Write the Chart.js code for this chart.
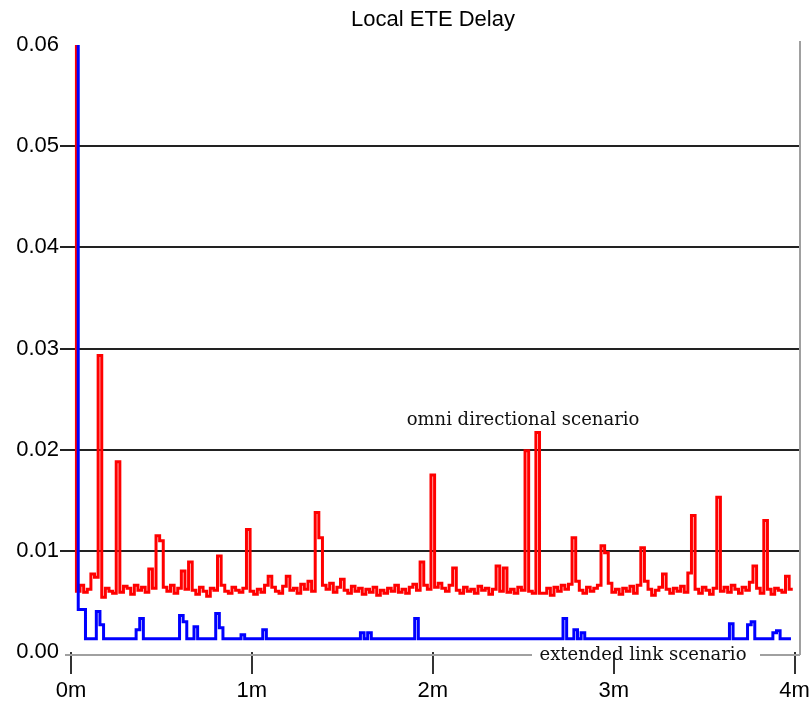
<!DOCTYPE html>
<html>
<head>
<meta charset="utf-8">
<title>Local ETE Delay</title>
<script src="https://cdn.jsdelivr.net/npm/chart.js@4.4.1/dist/chart.umd.min.js"></script>
<style>
  html, body { margin: 0; padding: 0; background: #fff; }
  #wrap { width: 810px; height: 702px; position: relative; }
</style>
</head>
<body>
<div id="wrap"><canvas id="ete-chart" width="810" height="702"></canvas></div>
<script>
// sampling grid of the simulation output (minutes)
const sampleStep = 0.02;
const omniStart = 0.03;
const extendedStart = 0.04;

const chartTitle = 'Local ETE Delay';
const omniLabel = 'omni directional scenario';
const extendedLabel = 'extended link scenario';
const xTickValues = [0, 1, 2, 3, 4];
const xTickLabels = ['0m', '1m', '2m', '3m', '4m'];
const yTickValues = [0, 0.01, 0.02, 0.03, 0.04, 0.05, 0.06];

// omni directional scenario (red), seconds
const omniDelay = [
  0.0600, 0.0060,
          0.0066, 0.0059, 0.0062, 0.0077, 0.0074, 0.0293, 0.0054, 0.0063, 0.0060,
  0.0058, 0.0188, 0.0059, 0.0065, 0.0063, 0.0057, 0.0066, 0.0061, 0.0064, 0.0059,
  0.0082, 0.0063, 0.0115, 0.0110, 0.0064, 0.0060, 0.0066, 0.0058, 0.0063, 0.0080,
  0.0062, 0.0089, 0.0061, 0.0057, 0.0064, 0.0060, 0.0055, 0.0063, 0.0061, 0.0095,
  0.0066, 0.0060, 0.0058, 0.0064, 0.0061, 0.0059, 0.0063, 0.0121, 0.0060, 0.0057,
  0.0062, 0.0059, 0.0066, 0.0075, 0.0064, 0.0060, 0.0058, 0.0065, 0.0075, 0.0061,
  0.0063, 0.0058, 0.0067, 0.0062, 0.0070, 0.0060, 0.0138, 0.0113, 0.0066, 0.0062,
  0.0068, 0.0059, 0.0064, 0.0072, 0.0061, 0.0058, 0.0065, 0.0060, 0.0063, 0.0057,
  0.0062, 0.0059, 0.0064, 0.0056, 0.0061, 0.0058, 0.0063, 0.0060, 0.0066, 0.0059,
  0.0062, 0.0058, 0.0064, 0.0067, 0.0061, 0.0089, 0.0066, 0.0062, 0.0175, 0.0064,
  0.0068, 0.0063, 0.0060, 0.0066, 0.0083, 0.0061, 0.0058, 0.0064, 0.0060, 0.0062,
  0.0058, 0.0065, 0.0061, 0.0063, 0.0057, 0.0062, 0.0085, 0.0060, 0.0083, 0.0059,
  0.0062, 0.0058, 0.0064, 0.0061, 0.0199, 0.0060, 0.0058, 0.0217, 0.0058, 0.0058,
  0.0063, 0.0056, 0.0064, 0.0060, 0.0066, 0.0062, 0.0067, 0.0113, 0.0070, 0.0061,
  0.0058, 0.0064, 0.0060, 0.0063, 0.0066, 0.0105, 0.0098, 0.0068, 0.0059, 0.0062,
  0.0057, 0.0063, 0.0060, 0.0065, 0.0058, 0.0066, 0.0103, 0.0070, 0.0062, 0.0056,
  0.0061, 0.0064, 0.0077, 0.0062, 0.0058, 0.0063, 0.0060, 0.0065, 0.0059, 0.0078,
  0.0135, 0.0062, 0.0058, 0.0064, 0.0061, 0.0057, 0.0063, 0.0153, 0.0060, 0.0064,
  0.0059, 0.0066, 0.0062, 0.0058, 0.0064, 0.0061, 0.0069, 0.0085, 0.0063, 0.0058,
  0.0130, 0.0062, 0.0057, 0.0063, 0.0061, 0.0059, 0.0075, 0.0062
];

// extended link scenario (blue), seconds
const extendedDelay = [
  0.0600, 0.0042, 0.0042, 0.0013,
                  0.0013, 0.0013, 0.0040, 0.0027, 0.0013, 0.0013, 0.0013,
  0.0013, 0.0013, 0.0013, 0.0013, 0.0013, 0.0013, 0.0022, 0.0033, 0.0013, 0.0013,
  0.0013, 0.0013, 0.0013, 0.0013, 0.0013, 0.0013, 0.0013, 0.0013, 0.0036, 0.0030,
  0.0013, 0.0013, 0.0025, 0.0013, 0.0013, 0.0013, 0.0013, 0.0013, 0.0038, 0.0024,
  0.0013, 0.0013, 0.0013, 0.0013, 0.0013, 0.0017, 0.0013, 0.0013, 0.0013, 0.0013,
  0.0013, 0.0022, 0.0013, 0.0013, 0.0013, 0.0013, 0.0013, 0.0013, 0.0013, 0.0013,
  0.0013, 0.0013, 0.0013, 0.0013, 0.0013, 0.0013, 0.0013, 0.0013, 0.0013, 0.0013,
  0.0013, 0.0013, 0.0013, 0.0013, 0.0013, 0.0013, 0.0013, 0.0013, 0.0019, 0.0013,
  0.0019, 0.0013, 0.0013, 0.0013, 0.0013, 0.0013, 0.0013, 0.0013, 0.0013, 0.0013,
  0.0013, 0.0013, 0.0013, 0.0033, 0.0013, 0.0013, 0.0013, 0.0013, 0.0013, 0.0013,
  0.0013, 0.0013, 0.0013, 0.0013, 0.0013, 0.0013, 0.0013, 0.0013, 0.0013, 0.0013,
  0.0013, 0.0013, 0.0013, 0.0013, 0.0013, 0.0013, 0.0013, 0.0013, 0.0013, 0.0013,
  0.0013, 0.0013, 0.0013, 0.0013, 0.0013, 0.0013, 0.0013, 0.0013, 0.0013, 0.0013,
  0.0013, 0.0013, 0.0013, 0.0013, 0.0033, 0.0013, 0.0013, 0.0022, 0.0013, 0.0019,
  0.0013, 0.0013, 0.0013, 0.0013, 0.0013, 0.0013, 0.0013, 0.0013, 0.0013, 0.0013,
  0.0013, 0.0013, 0.0013, 0.0013, 0.0013, 0.0013, 0.0013, 0.0013, 0.0013, 0.0013,
  0.0013, 0.0013, 0.0013, 0.0013, 0.0013, 0.0013, 0.0013, 0.0013, 0.0013, 0.0013,
  0.0013, 0.0013, 0.0013, 0.0013, 0.0013, 0.0013, 0.0013, 0.0013, 0.0013, 0.0013,
  0.0028, 0.0013, 0.0013, 0.0013, 0.0013, 0.0027, 0.0030, 0.0013, 0.0013, 0.0013,
  0.0013, 0.0013, 0.0019, 0.0021, 0.0013, 0.0013, 0.0013
];

const toPoints = (values, start) => values.map((v, i) => ({ x: start + i * sampleStep, y: v }));

const tickFont = { family: "'Liberation Sans', Arial, sans-serif", size: 22 };
const serifFont = "18px 'DejaVu Serif', 'Liberation Serif', serif";

// title, scenario labels, frame and x axis line with a gap for the label
const decorations = {
  id: 'decorations',
  afterDraw(chart) {
    const { ctx, chartArea } = chart;
    const base = chartArea.bottom + 3;
    ctx.save();
    ctx.fillStyle = '#000';
    ctx.font = "22px 'Liberation Sans', Arial, sans-serif";
    ctx.textAlign = 'center';
    ctx.textBaseline = 'middle';
    ctx.fillText(chartTitle, 433, 20);

    ctx.strokeStyle = '#a0a0a0';
    ctx.lineWidth = 2;
    ctx.beginPath();
    ctx.moveTo(chartArea.left - 6, base);
    ctx.lineTo(532, base);
    ctx.moveTo(760, base);
    ctx.lineTo(chartArea.right, base);
    ctx.moveTo(chartArea.right, base);
    ctx.lineTo(chartArea.right, chartArea.top - 4);
    ctx.stroke();

    ctx.font = serifFont;
    ctx.fillStyle = '#111';
    ctx.fillText(omniLabel, 523, 420);
    ctx.fillText(extendedLabel, 643, 655);
    ctx.restore();
  }
};

const ctx = document.getElementById('ete-chart').getContext('2d');
new Chart(ctx, {
  type: 'line',
  data: {
    datasets: [
      {
        label: extendedLabel,
        data: toPoints(extendedDelay, extendedStart),
        borderColor: '#0000ff',
        borderWidth: 3,
        stepped: 'after',
        pointRadius: 0
      },
      {
        label: omniLabel,
        data: toPoints(omniDelay, omniStart),
        borderColor: '#ff0000',
        borderWidth: 3,
        stepped: 'after',
        pointRadius: 0
      }
    ]
  },
  options: {
    responsive: false,
    animation: false,
    layout: { padding: { top: 45, right: 10, bottom: 0, left: 0 } },
    plugins: {
      legend: { display: false },
      tooltip: { enabled: false },
      title: { display: false }
    },
    scales: {
      x: {
        type: 'linear',
        min: 0,
        max: 4.03,
        afterBuildTicks: (scale) => { scale.ticks = xTickValues.map(v => ({ value: v })); },
        afterFit: (scale) => { scale.height = 50; scale.paddingRight = 0; scale.paddingLeft = 0; },
        border: { display: false },
        grid: { drawOnChartArea: false, drawTicks: true, tickLength: 22, tickColor: '#333', lineWidth: 2 },
        ticks: {
          padding: 4,
          maxRotation: 0,
          color: '#000',
          font: tickFont,
          callback: (v) => xTickLabels[xTickValues.indexOf(v)]
        }
      },
      y: {
        min: 0,
        max: 0.06,
        afterBuildTicks: (scale) => { scale.ticks = yTickValues.map(v => ({ value: v })); },
        afterFit: (scale) => { scale.width = 71; },
        border: { display: false },
        grid: {
          tickLength: 11,
          lineWidth: 2,
          color: (c) => (c.tick && (c.tick.value === 0 || c.tick.value === 0.06)) ? 'rgba(0,0,0,0)' : '#222'
        },
        ticks: {
          padding: 1,
          color: '#000',
          font: tickFont,
          callback: (v) => v.toFixed(2)
        }
      }
    }
  },
  plugins: [decorations]
});
</script>
</body>
</html>
